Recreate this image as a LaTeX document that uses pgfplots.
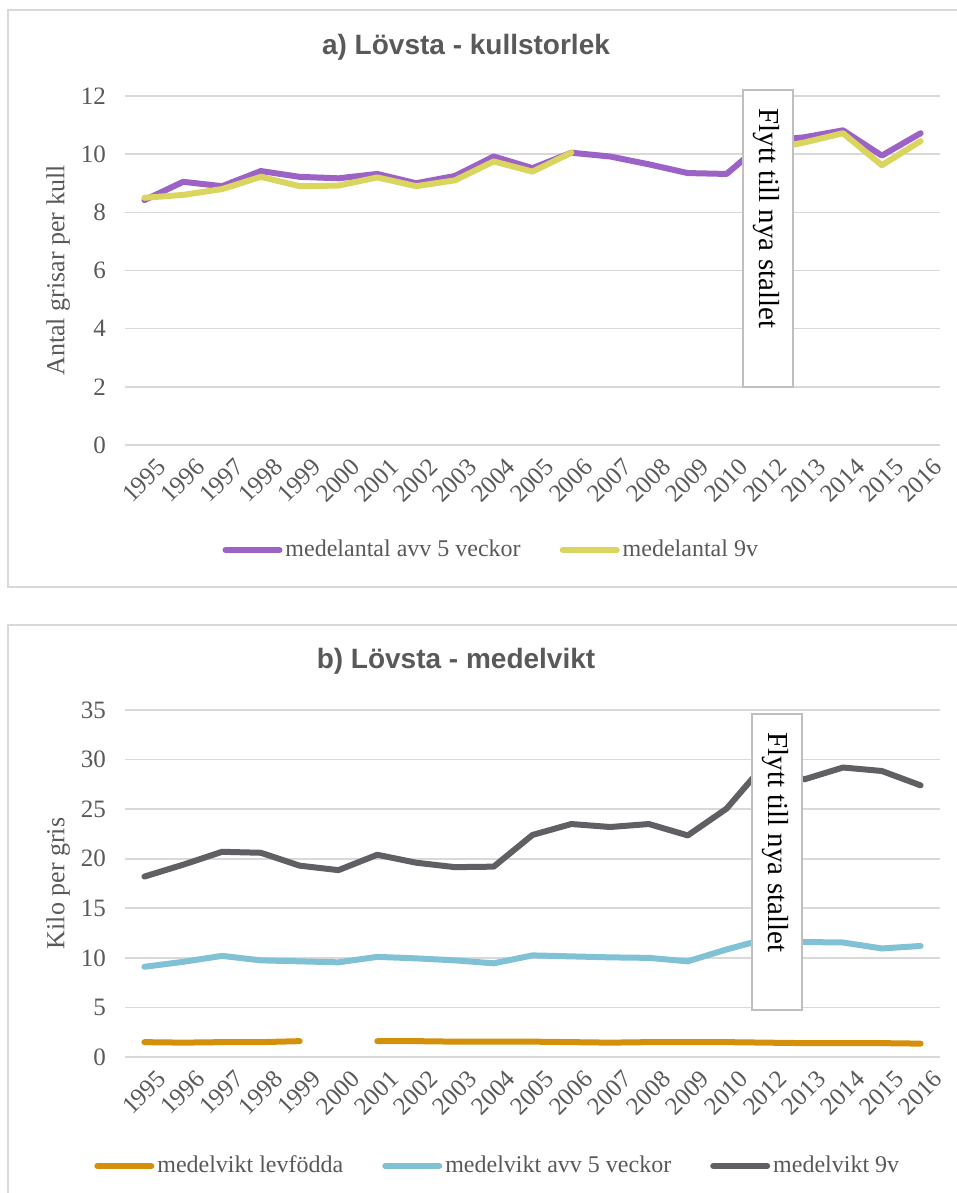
\documentclass[border=0pt]{standalone}
\usepackage{fontspec}
\setmainfont{Liberation Serif}
\newfontfamily\titlefont{Liberation Sans}
\usepackage{pgfplots}
\pgfplotsset{compat=1.18}

\definecolor{txtgray}{HTML}{595959}
\definecolor{gridgray}{HTML}{D9D9D9}
\definecolor{boxgray}{HTML}{BFBFBF}
\definecolor{lila}{HTML}{9C62C6}
\definecolor{gul}{HTML}{DAD55E}
\definecolor{guld}{HTML}{D4900A}
\definecolor{ljusbla}{HTML}{80C1D6}
\definecolor{morkgra}{HTML}{5F6064}

% 1 px of the reference = 0.5pt
\pgfplotsset{
  excel/.style={
    scale only axis, anchor=south west, width=407.5pt,
    xmin=-0.5, xmax=20.5, xtick={0,...,20},
    xticklabels={1995,1996,1997,1998,1999,2000,2001,2002,2003,2004,2005,2006,2007,2008,2009,2010,2012,2013,2014,2015,2016},
    axis line style={draw=none}, major tick length=0pt,
    ymajorgrids, grid style={gridgray, line width=0.8pt},
    /pgf/number format/assume math mode=true,
    tick label style={font=\fontsize{12.5}{14}\selectfont, text=txtgray},
    xticklabel style={rotate=45, anchor=north east, inner sep=1pt, yshift=-7pt, xshift=1pt},
    yticklabel style={xshift=-6pt},
    every axis y label/.style={at={(axis description cs:-0.082,0.5)}, rotate=90, anchor=center,
      font=\fontsize{13}{15}\selectfont, text=txtgray},
    unbounded coords=jump,
    legend style={draw=none, fill=none, font=\fontsize{12}{14}\selectfont, text=txtgray,
      anchor=center, /tikz/every odd column/.append style={column sep=0pt},
      /tikz/every even column/.append style={column sep=18pt},
      nodes={inner sep=1.5pt}},
    legend image code/.code={\draw[#1] (0pt,0pt) -- (27pt,0pt);},
    every axis plot/.append style={line width=3pt, line join=round, line cap=round},
  }
}

\begin{document}
\begin{tikzpicture}
\useasboundingbox (0,0) rectangle (478.5pt,-596.5pt);
\draw[gridgray, line width=1pt] (4pt,-5pt) rectangle (490pt,-293.5pt);
\draw[gridgray, line width=1pt] (4pt,-312.5pt) rectangle (490pt,-610pt);

\node[font=\titlefont\bfseries\fontsize{14}{16}\selectfont, text=txtgray] at (233pt,-23.5pt) {a) Lövsta - kullstorlek};
\node[font=\titlefont\bfseries\fontsize{14}{16}\selectfont, text=txtgray] at (228pt,-330.5pt) {b) Lövsta - medelvikt};

\begin{axis}[excel, at={(62.5pt,-222.5pt)}, height=174.5pt,
  ymin=0, ymax=12, ytick={0,2,...,12},
  ylabel={Antal grisar per kull},
  legend columns=2,
  legend style={at={(axis description cs:0.450,-0.301)}}]
\addplot[lila] coordinates {
 (0,8.42) (1,9.05) (2,8.9) (3,9.42) (4,9.22) (5,9.17) (6,9.32) (7,9.0) (8,9.25) (9,9.92)
 (10,9.52) (11,10.05) (12,9.92) (13,9.65) (14,9.35) (15,9.32) (16,10.45) (17,10.58) (18,10.82) (19,9.95) (20,10.72)};
\addlegendentry{medelantal avv 5 veckor}
\addplot[gul] coordinates {
 (0,8.5) (1,8.6) (2,8.8) (3,9.22) (4,8.9) (5,8.92) (6,9.2) (7,8.9) (8,9.1) (9,9.75)
 (10,9.4) (11,10.05) (12,nan) (13,nan) (14,nan) (15,nan) (16,10.15) (17,10.4) (18,10.72) (19,9.62) (20,10.45)};
\addlegendentry{medelantal 9v}
\end{axis}

\begin{axis}[excel, at={(62.5pt,-528.5pt)}, height=173.5pt,
  ymin=0, ymax=35, ytick={0,5,...,35},
  ylabel={Kilo per gris},
  legend columns=3,
  legend style={at={(axis description cs:0.458,-0.314)}}]
\addplot[guld] coordinates {
 (0,1.5) (1,1.45) (2,1.5) (3,1.5) (4,1.6) (5,nan) (6,1.6) (7,1.6) (8,1.55) (9,1.55)
 (10,1.55) (11,1.5) (12,1.45) (13,1.5) (14,1.5) (15,1.5) (16,1.45) (17,1.4) (18,1.4) (19,1.4) (20,1.35)};
\addlegendentry{medelvikt levfödda}
\addplot[ljusbla] coordinates {
 (0,9.1) (1,9.6) (2,10.2) (3,9.75) (4,9.65) (5,9.55) (6,10.1) (7,9.95) (8,9.75) (9,9.45)
 (10,10.25) (11,10.15) (12,10.05) (13,10.0) (14,9.65) (15,10.85) (16,11.9) (17,11.6) (18,11.55) (19,10.95) (20,11.2)};
\addlegendentry{medelvikt avv 5 veckor}
\addplot[morkgra] coordinates {
 (0,18.2) (1,19.4) (2,20.7) (3,20.6) (4,19.3) (5,18.85) (6,20.4) (7,19.6) (8,19.15) (9,19.2)
 (10,22.4) (11,23.5) (12,23.2) (13,23.5) (14,22.35) (15,25.05) (16,29.6) (17,28.0) (18,29.2) (19,28.85) (20,27.4)};
\addlegendentry{medelvikt 9v}
\end{axis}

\draw[boxgray, fill=white, line width=0.8pt] (371.5pt,-45pt) rectangle (396.5pt,-193.5pt);
\node[rotate=-90, anchor=west, inner sep=0pt, font=\fontsize{14.5}{16}\selectfont] at (383pt,-54pt) {Flytt till nya stallet};
\draw[boxgray, fill=white, line width=0.8pt] (376pt,-357pt) rectangle (401pt,-505pt);
\node[rotate=-90, anchor=west, inner sep=0pt, font=\fontsize{14.5}{16}\selectfont] at (387.5pt,-366pt) {Flytt till nya stallet};
\end{tikzpicture}
\end{document}
